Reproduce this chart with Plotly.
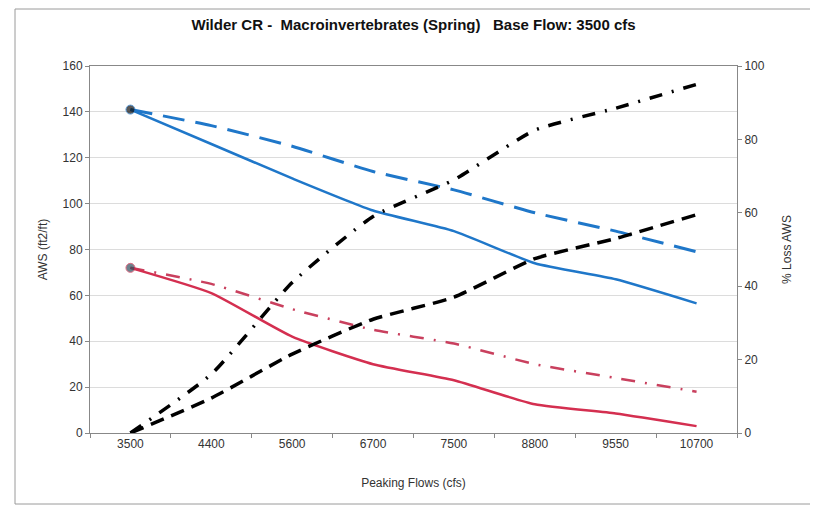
import plotly.graph_objects as go

categories = ["3500", "4400", "5600", "6700", "7500", "8800", "9550", "10700"]
aws_blue = [141, 126, 111, 97, 88, 74, 67, 56.5]
aws_blue_dash = [141, 134, 125, 114, 106, 96, 88, 79]
aws_red = [72, 61, 42, 30, 23, 12.5, 8.5, 3]
aws_red_dashdot = [72, 65, 54, 45, 39, 30, 24, 18]
loss_blue = [0, 9.5, 21.5, 31, 37, 47.5, 53, 59.5]
loss_red = [0, 16, 41, 59, 69, 82.5, 88.5, 95]

first_marker = [9] + [0] * (len(categories) - 1)

fig = go.Figure()

fig.add_trace(go.Scatter(
    x=categories, y=aws_blue_dash, mode="lines",
    line=dict(color="#1f77c9", width=3, dash="22px,11px", shape="spline", smoothing=0.5),
    showlegend=False))
fig.add_trace(go.Scatter(
    x=categories, y=aws_red_dashdot, mode="lines",
    line=dict(color="#c9405e", width=2.5, dash="14px,10px,2px,10px", shape="spline", smoothing=0.5),
    showlegend=False))
fig.add_trace(go.Scatter(
    x=categories, y=aws_blue, mode="lines+markers",
    line=dict(color="#1f77c9", width=2.5, shape="spline", smoothing=0.5),
    marker=dict(size=first_marker, color="#111111"),
    showlegend=False))
fig.add_trace(go.Scatter(
    x=categories, y=aws_red, mode="lines+markers",
    line=dict(color="#d42f50", width=2.5, shape="spline", smoothing=0.5),
    marker=dict(size=first_marker, color="#2e4d5c"),
    showlegend=False))
fig.add_trace(go.Scatter(
    x=categories, y=loss_blue, mode="lines", yaxis="y2",
    line=dict(color="#000000", width=3.5, dash="14px,8px", shape="spline", smoothing=0.5),
    showlegend=False))
fig.add_trace(go.Scatter(
    x=categories, y=loss_red, mode="lines", yaxis="y2",
    line=dict(color="#000000", width=3.5, dash="13px,10px,2px,10px", shape="spline", smoothing=0.5),
    showlegend=False))

axis_font = dict(family="Liberation Sans, Arial, sans-serif", size=12, color="#333333")

# page has an 8px body margin; figure sized so the plot area lands at page x 90-737, y 66-433
W, H = 810, 497
L, R, T, B = 82, 81, 58, 72
pw, ph = W - L - R, H - T - B

fig.update_layout(
    width=W, height=H,
    margin=dict(l=L, r=R, t=T, b=B),
    paper_bgcolor="white", plot_bgcolor="white",
    font=dict(family="Liberation Sans, Arial, sans-serif", size=12, color="#333333"),
    title=dict(
        text="<b>Wilder CR -\u00a0 Macroinvertebrates (Spring)\u00a0\u00a0 Base Flow: 3500 cfs</b>",
        x=0.5, xref="paper", y=(H - 17) / H, yref="container", yanchor="middle",
        font=dict(family="Liberation Sans, Arial, sans-serif", size=15, color="#111111")),
    xaxis=dict(
        type="category", range=[-0.5, 7.5], tickson="boundaries",
        ticks="outside", ticklen=4, tickcolor="#888888",
        showline=True, linecolor="#888888", linewidth=1, mirror=True,
        showgrid=False, tickfont=axis_font,
        title=dict(text="Peaking Flows (cfs)", font=axis_font, standoff=28)),
    yaxis=dict(
        range=[0, 160], dtick=20, ticks="outside", ticklen=4, tickcolor="#888888",
        showline=True, linecolor="#888888", linewidth=1,
        showgrid=True, gridcolor="#dcdcdc", gridwidth=1, zeroline=False,
        tickfont=axis_font,
        title=dict(text="AWS (ft2/ft)", font=axis_font, standoff=12)),
    yaxis2=dict(
        range=[0, 100], dtick=20, overlaying="y", side="right",
        ticks="outside", ticklen=4, tickcolor="#888888",
        showline=True, linecolor="#888888", linewidth=1,
        showgrid=False, zeroline=False, tickfont=axis_font,
        title=dict(text="% Loss AWS", font=axis_font, standoff=18)),
    shapes=[dict(type="rect", xref="paper", yref="paper",
                 x0=(7 - L) / pw, x1=(W - 1 - L) / pw,
                 y0=(T + ph - (H - 1)) / ph, y1=(T + ph - 1) / ph,
                 line=dict(color="#9a9a9a", width=1), layer="below")],
)

fig.write_html("out.html")
